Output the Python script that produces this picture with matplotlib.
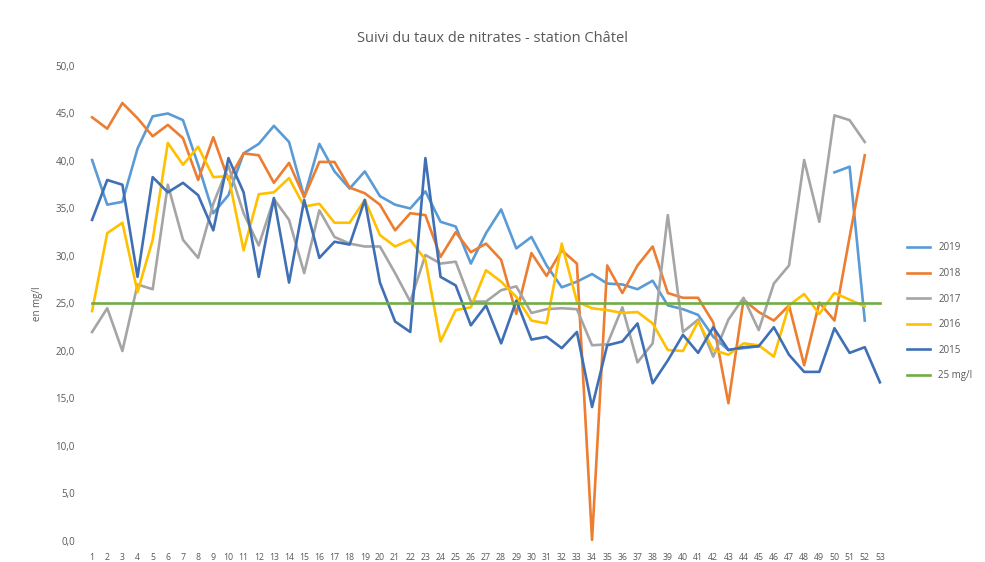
import numpy as np
import matplotlib.pyplot as plt

nan = np.nan

# semaines 1 à 53
weeks = list(range(1, 54))

# taux de nitrates relevés (mg/l)
y2019 = [40.1, 35.4, 35.7, 41.3, 44.7, 45.0, 44.3, 39.6, 34.5, 36.4,
         40.8, 41.8, 43.7, 42.0, 36.2, 41.8, 38.9, 37.1, 38.9, 36.3,
         35.4, 35.0, 36.8, 33.6, 33.1, 29.2, 32.4, 34.9, 30.8, 32.0,
         29.0, 26.7, 27.3, 28.1, 27.1, 27.0, 26.5, 27.4, 24.8, 24.4,
         23.8, 21.5, 20.1, 20.3, 20.5, nan, nan, nan, nan, 38.8,
         39.4, 23.2, nan]
y2018 = [44.6, 43.4, 46.1, 44.5, 42.6, 43.8, 42.4, 38.0, 42.5, 38.0,
         40.8, 40.6, 37.7, 39.8, 36.2, 39.9, 39.9, 37.2, 36.6, 35.4,
         32.7, 34.5, 34.3, 29.9, 32.5, 30.4, 31.3, 29.6, 23.9, 30.3,
         27.9, 30.6, 29.2, 0.1, 29.0, 26.1, 29.0, 31.0, 26.1, 25.6,
         25.6, 23.0, 14.5, 25.4, 24.1, 23.2, 24.8, 18.5, 25.1, 23.2,
         32.0, 40.6, nan]
y2017 = [22.0, 24.5, 20.0, 27.0, 26.5, 37.5, 31.7, 29.8, 35.5, 39.5,
         34.5, 31.1, 36.0, 33.8, 28.2, 34.8, 32.0, 31.3, 31.0, 31.0,
         28.2, 25.2, 30.1, 29.2, 29.4, 25.2, 25.2, 26.4, 26.8, 24.0,
         24.4, 24.5, 24.4, 20.6, 20.7, 24.6, 18.8, 20.8, 34.3, 22.0,
         23.3, 19.4, 23.3, 25.6, 22.2, 27.1, 29.0, 40.1, 33.6, 44.8,
         44.3, 42.0, nan]
y2016 = [24.2, 32.4, 33.5, 26.2, 31.7, 41.9, 39.6, 41.5, 38.3, 38.4,
         30.6, 36.5, 36.7, 38.2, 35.2, 35.5, 33.5, 33.5, 35.9, 32.2,
         31.0, 31.7, 29.6, 21.0, 24.3, 24.6, 28.5, 27.3, 25.7, 23.2,
         22.9, 31.3, 25.2, 24.5, 24.3, 24.0, 24.1, 22.9, 20.1, 20.0,
         23.1, 20.1, 19.6, 20.8, 20.6, 19.4, 24.8, 26.0, 23.9, 26.1,
         25.4, 24.7, nan]
y2015 = [33.8, 38.0, 37.5, 27.8, 38.3, 36.7, 37.7, 36.4, 32.7, 40.3,
         36.7, 27.8, 36.1, 27.2, 35.9, 29.8, 31.5, 31.2, 35.9, 27.2,
         23.1, 22.0, 40.3, 27.8, 26.9, 22.7, 24.8, 20.8, 25.3, 21.2,
         21.5, 20.3, 22.0, 14.1, 20.6, 21.0, 22.9, 16.6, 19.0, 21.7,
         19.8, 22.5, 20.1, 20.4, 20.5, 22.5, 19.6, 17.8, 17.8, 22.4,
         19.8, 20.4, 16.7]
threshold = 25.0

series = [
    ("2019", y2019, "#5B9BD5"),
    ("2018", y2018, "#ED7D31"),
    ("2017", y2017, "#A5A5A5"),
    ("2016", y2016, "#FFC000"),
    ("2015", y2015, "#3F70B5"),
]

plt.rcParams['font.family'] = ['Open Sans', 'DejaVu Sans']

fig = plt.figure(figsize=(9.85, 5.62), dpi=100)
ax = fig.add_axes([0.0858, 0.0374, 0.8152, 0.8452])

for label, vals, color in series:
    ax.plot(weeks, vals, color=color, linewidth=1.9, label=label)
ax.plot(weeks, [threshold] * len(weeks), color="#70AD47", linewidth=1.9,
        label="25 mg/l")

ax.set_xlim(0.5, 53.5)
ax.set_ylim(0, 50)
ax.set_yticks(np.arange(0, 51, 5))
ax.set_yticklabels([f"{v:.1f}".replace(".", ",") for v in np.arange(0, 51, 5)],
                   fontsize=7, color="#595959")
ax.set_xticks(weeks)
ax.set_xticklabels([str(w) for w in weeks], fontsize=6.3, color="#595959")
ax.tick_params(axis="y", length=0, pad=7)
ax.tick_params(axis="x", length=0, pad=9)
for s in ax.spines.values():
    s.set_visible(False)

ax.set_ylabel("en mg/l", fontsize=7, color="#595959", labelpad=9)
fig.suptitle("Suivi du taux de nitrates - station Châtel", fontsize=10.5,
             color="#595959", y=0.945)

fig.legend(loc="center left", bbox_to_anchor=(0.912, 0.445), frameon=False,
           fontsize=7, labelspacing=1.5, handlelength=2.4,
           labelcolor="#595959")

fig.savefig("out.png", dpi=100)
